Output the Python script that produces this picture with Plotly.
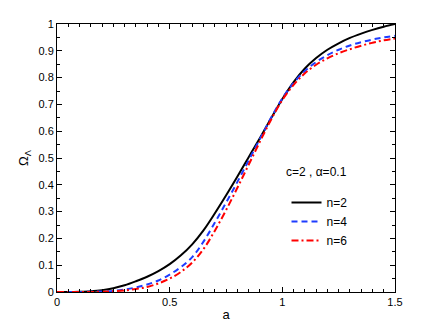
import plotly.graph_objects as go

# scale factor a, sampled every 0.05
a_vals = [0.00, 0.05, 0.10, 0.15, 0.20, 0.25, 0.30, 0.35, 0.40, 0.45,
          0.50, 0.55, 0.60, 0.65, 0.70, 0.75, 0.80, 0.85, 0.90, 0.95,
          1.00, 1.05, 1.10, 1.15, 1.20, 1.25, 1.30, 1.35, 1.40, 1.45, 1.50]

omega_n2 = [0.000, 0.000, 0.001, 0.003, 0.007, 0.014, 0.025, 0.040, 0.057, 0.078,
            0.104, 0.137, 0.178, 0.230, 0.293, 0.360, 0.430, 0.502, 0.574, 0.648,
            0.720, 0.783, 0.834, 0.873, 0.904, 0.928, 0.948, 0.964, 0.978, 0.990, 1.000]
omega_n4 = [0.000, 0.000, 0.000, 0.001, 0.002, 0.004, 0.009, 0.017, 0.028, 0.043,
            0.065, 0.093, 0.130, 0.188, 0.258, 0.333, 0.410, 0.490, 0.570, 0.650,
            0.722, 0.780, 0.825, 0.858, 0.884, 0.904, 0.920, 0.932, 0.942, 0.950, 0.956]
omega_n6 = [0.000, 0.000, 0.000, 0.000, 0.001, 0.003, 0.006, 0.011, 0.019, 0.032,
            0.050, 0.075, 0.110, 0.160, 0.228, 0.305, 0.388, 0.474, 0.560, 0.643,
            0.716, 0.773, 0.816, 0.848, 0.872, 0.891, 0.906, 0.919, 0.930, 0.939, 0.946]

x_ticks = [0, 0.5, 1, 1.5]
x_labels = ["0", "0.5", "1", "1.5"]
y_ticks = [0, 0.1, 0.2, 0.3, 0.4, 0.5, 0.6, 0.7, 0.8, 0.9, 1]
y_labels = ["0", "0.1", "0.2", "0.3", "0.4", "0.5", "0.6", "0.7", "0.8", "0.9", "1"]

FONT = "Liberation Sans, Arial, sans-serif"

fig = go.Figure()
fig.add_trace(go.Scatter(x=a_vals, y=omega_n2, mode="lines", name="n=2", line_shape="spline",
                         line=dict(color="black", width=2, dash="solid")))
fig.add_trace(go.Scatter(x=a_vals, y=omega_n4, mode="lines", name="n=4", line_shape="spline",
                         line=dict(color="rgb(30,60,255)", width=2, dash="6px,4px")))
fig.add_trace(go.Scatter(x=a_vals, y=omega_n6, mode="lines", name="n=6", line_shape="spline",
                         line=dict(color="rgb(255,0,0)", width=2, dash="7px,3px,2px,3px")))

axis_common = dict(showline=True, linecolor="black", linewidth=1, mirror="allticks",
                   ticks="inside", ticklen=5, tickcolor="black", showgrid=False,
                   zeroline=False, automargin=False,
                   tickfont=dict(size=11, color="black"),
                   minor=dict(ticks="inside", ticklen=3, tickcolor="black", dtick=0.05))

fig.update_xaxes(range=[0, 1.5], tickvals=x_ticks, ticktext=x_labels,
                 title=dict(text="a", font=dict(size=13, color="black"), standoff=2),
                 **axis_common)
fig.update_yaxes(range=[0, 1], tickvals=y_ticks, ticktext=y_labels,
                 title=dict(text="Ω<sub>Λ</sub>", font=dict(size=13, color="black"), standoff=6),
                 **axis_common)

fig.add_annotation(x=0.769, y=0.448, xref="paper", yref="paper", text="c=2 , α=0.1",
                   xanchor="center", yanchor="middle",
                   showarrow=False, font=dict(size=12, color="black"))

# the page body adds an 8px offset, so the figure is 8px smaller than the window
fig.update_layout(
    width=428, height=320,
    margin=dict(l=49, r=41, t=16, b=36),
    paper_bgcolor="white", plot_bgcolor="white",
    font=dict(family=FONT, color="black"),
    showlegend=True,
    legend=dict(x=0.679, y=0.388, xanchor="left", yanchor="top",
                bgcolor="rgba(0,0,0,0)", borderwidth=0, tracegroupgap=0,
                font=dict(size=12, color="black"), itemwidth=30),
)

fig.write_html("out.html")
